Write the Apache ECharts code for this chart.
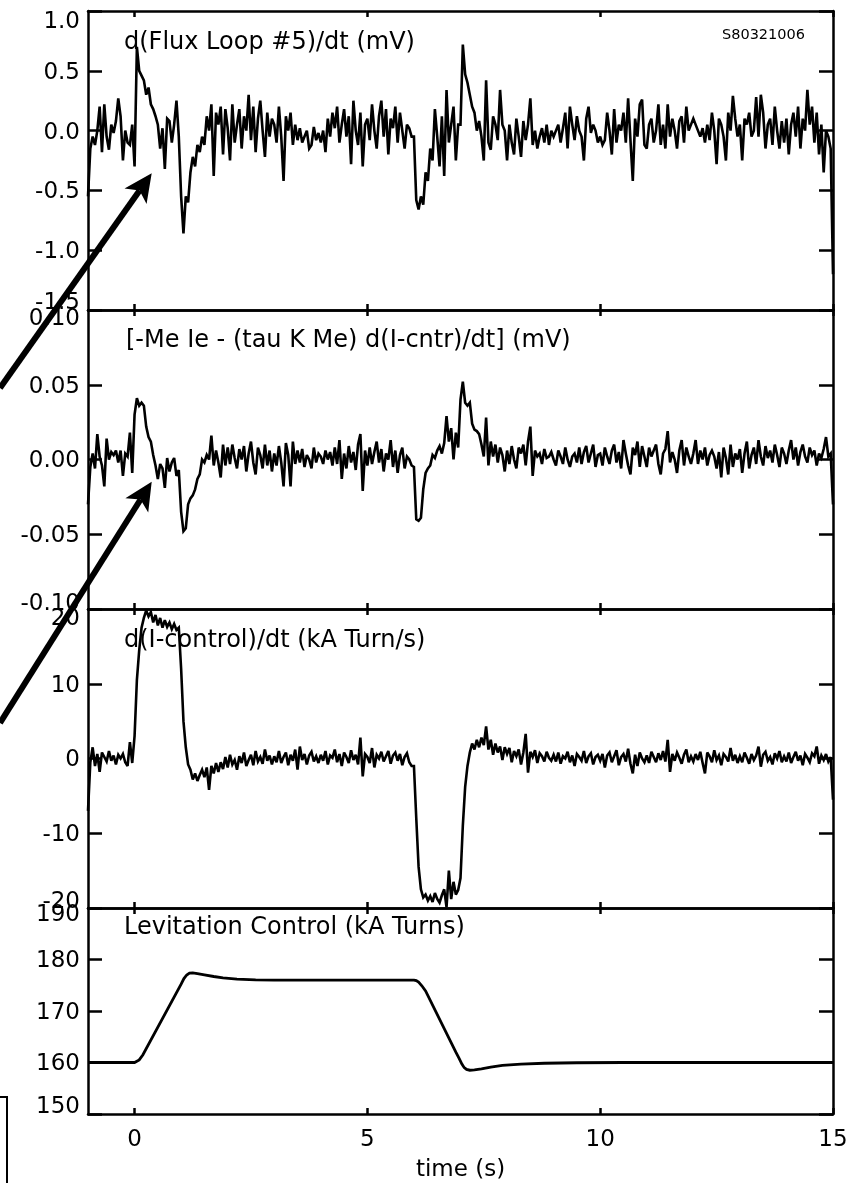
<!DOCTYPE html>
<html><head><meta charset="utf-8">
<script src="https://cdn.jsdelivr.net/npm/echarts@6/dist/echarts.min.js"></script>
<style>html,body{margin:0;padding:0;background:#fff}#c{width:861px;height:1183px}</style>
</head><body><div id="c"></div>
<script>
// sampling of the three noisy traces: t = -1 s ... 15 s every 0.05 s
const T0 = -1, DT = 0.05;

// Panel 1: d(Flux Loop #5)/dt (mV)
const fluxLoop = [
 -0.55,-0.15,-0.05,-0.12,0.0,0.2,-0.18,0.22,-0.05,-0.16,0.05,-0.02,0.08,0.27,0.12,-0.25,0.0,-0.1,-0.12,0.05,
 -0.3,0.70,0.50,0.46,0.42,0.30,0.36,0.22,0.18,0.12,0.05,-0.15,0.02,-0.32,0.10,0.08,-0.10,0.05,0.25,-0.05,
 -0.55,-0.86,-0.55,-0.60,-0.35,-0.22,-0.30,-0.12,-0.18,-0.05,-0.12,0.12,0.0,0.22,-0.38,0.15,0.05,0.2,-0.2,0.18,
 0.02,-0.25,0.22,-0.1,0.05,0.18,-0.15,0.12,0.0,0.3,-0.08,0.2,-0.18,0.1,0.25,0.0,-0.22,0.15,-0.05,0.1,
 0.05,-0.1,0.2,-0.05,-0.42,0.12,0.0,0.15,-0.12,0.05,-0.08,0.02,-0.1,-0.05,0.0,-0.15,-0.12,0.03,-0.08,-0.02,
 -0.1,0.0,-0.18,0.1,-0.05,0.15,0.02,0.2,-0.1,0.05,0.18,-0.05,0.12,-0.28,0.25,0.0,-0.12,0.15,-0.3,0.05,
 0.1,-0.08,0.22,0.0,-0.15,0.12,0.25,-0.05,0.18,-0.2,0.1,0.02,0.2,-0.1,0.15,0.0,-0.15,0.05,0.02,-0.05,
 -0.05,-0.58,-0.66,-0.55,-0.62,-0.35,-0.42,-0.15,-0.25,0.18,-0.05,-0.3,0.12,-0.38,0.34,-0.1,0.05,0.2,-0.25,0.05,
 0.05,0.72,0.47,0.40,0.30,0.20,0.15,0.0,0.08,-0.05,-0.25,0.42,-0.10,-0.16,0.12,0.05,-0.08,0.34,0.05,0.0,
 -0.25,0.05,-0.1,-0.2,0.1,-0.05,-0.22,0.08,-0.08,0.05,0.27,-0.12,0.0,-0.15,-0.05,0.02,-0.1,0.05,-0.12,0.0,
 -0.05,0.0,0.05,-0.1,0.02,0.15,-0.15,0.2,0.05,-0.08,0.12,0.0,-0.05,-0.25,0.1,0.2,-0.02,0.05,0.0,-0.1,
 -0.05,-0.12,-0.08,0.15,0.0,-0.2,0.18,-0.1,0.05,0.0,0.15,-0.1,0.27,-0.08,-0.42,0.1,-0.05,0.22,0.26,-0.12,
 -0.15,0.05,0.1,-0.1,0.0,0.22,-0.12,0.05,-0.15,0.22,-0.05,0.1,0.0,-0.15,0.08,0.12,-0.1,0.2,0.0,0.05,
 0.1,0.05,0.0,-0.05,0.02,-0.1,0.05,-0.08,0.15,0.0,-0.28,0.1,0.05,-0.05,-0.25,0.15,0.0,0.29,0.1,-0.05,
 0.05,-0.25,0.1,0.05,0.15,-0.05,0.0,0.28,-0.05,0.3,0.15,-0.15,0.05,0.1,-0.12,0.2,0.0,-0.15,0.08,-0.1,
 0.1,-0.2,0.05,0.15,-0.05,0.2,-0.15,0.1,0.0,0.34,0.05,0.2,-0.1,0.15,-0.2,0.05,-0.35,0.0,-0.05,-0.15,
 -1.2
];

// Panel 2: [-Me Ie - (tau K Me) d(I-cntr)/dt] (mV)
const meIe = [
 -0.03,-0.005,0.004,-0.006,0.017,0.002,-0.004,-0.018,0.014,0.0,0.005,0.003,0.006,-0.002,0.006,-0.011,0.004,0.002,0.018,-0.009,
 0.030,0.041,0.036,0.038,0.036,0.022,0.015,0.012,0.003,-0.004,-0.013,-0.003,-0.006,-0.019,0.001,-0.008,-0.002,0.001,-0.011,-0.007,
 -0.035,-0.048,-0.046,-0.030,-0.026,-0.024,-0.020,-0.013,-0.010,0.000,-0.002,0.003,0.000,0.016,-0.004,0.006,-0.002,-0.012,0.010,-0.004,
 0.008,-0.003,0.010,0.001,-0.006,0.007,0.0,0.009,-0.008,0.004,0.012,-0.002,-0.010,0.008,0.003,-0.006,0.010,-0.004,0.006,-0.008,
 0.004,-0.004,0.009,-0.002,-0.018,0.011,0.003,-0.018,0.012,-0.003,0.006,-0.002,0.007,-0.005,0.003,0.0,-0.006,0.008,-0.002,0.004,
 0.002,-0.003,0.006,0.0,0.005,-0.004,0.008,-0.003,0.013,-0.013,0.004,-0.006,0.009,-0.002,0.005,-0.007,0.01,0.017,-0.021,0.006,
 -0.004,0.008,-0.003,0.005,0.012,-0.002,0.007,-0.008,0.004,0.0,0.013,-0.005,0.006,-0.009,0.003,0.008,-0.006,0.002,0.0,-0.004,
 -0.005,-0.040,-0.041,-0.039,-0.020,-0.009,-0.006,-0.004,0.003,0.001,0.006,0.009,0.004,0.011,0.029,0.012,0.021,0.000,0.018,0.008,
 0.040,0.052,0.038,0.036,0.038,0.024,0.020,0.019,0.017,0.010,0.002,0.028,-0.004,0.012,0.002,0.010,-0.002,0.008,0.003,-0.008,
 0.006,-0.003,0.009,0.0,-0.006,0.008,0.004,0.010,-0.004,0.012,0.022,-0.011,0.006,0.002,0.004,-0.003,0.007,0.001,0.002,0.005,
 0.0,-0.004,0.006,0.002,-0.003,0.008,0.0,-0.005,0.002,0.004,-0.002,0.008,-0.003,0.005,0.009,-0.002,0.004,0.010,-0.005,0.003,
 0.004,-0.004,0.008,0.002,-0.003,0.006,0.010,-0.002,0.005,-0.006,0.013,0.004,-0.004,-0.010,0.008,0.003,0.012,-0.005,0.009,0.002,
 -0.005,0.008,0.002,0.006,0.010,-0.003,-0.010,0.004,0.007,0.019,-0.002,0.005,0.000,-0.009,0.006,0.013,-0.004,0.008,0.002,-0.003,
 0.004,0.013,-0.003,0.006,0.0,0.008,-0.004,0.003,0.006,0.002,-0.006,0.005,-0.012,0.008,0.001,-0.010,0.010,-0.005,0.004,0.0,
 0.007,-0.009,0.004,0.012,-0.006,0.003,0.008,-0.003,0.013,0.002,-0.004,0.009,0.001,0.006,-0.002,0.010,0.003,-0.005,0.008,0.004,
 -0.003,0.006,0.013,0.0,0.008,-0.004,0.005,0.010,0.002,-0.002,0.008,0.003,0.006,-0.004,0.004,0.001,0.007,0.015,0.002,0.004,
 -0.03
];

// Panel 3: d(I-control)/dt (kA Turn/s)
const dIcontrol = [
 -7.0,-0.5,1.5,-1.0,0.6,-1.8,0.8,0.2,-0.4,1.0,-0.3,0.4,-0.8,0.5,0.0,0.6,-0.5,-1.0,2.2,-0.6,
 3.0,10.5,14.5,17.5,18.8,19.8,19.0,19.6,18.2,19.2,17.8,18.8,17.5,18.5,17.6,18.2,17.3,18.0,17.2,17.5,
 12.0,5.0,1.5,-0.8,-1.5,-2.8,-2.0,-3.0,-2.2,-1.5,-2.5,-1.2,-4.2,-1.0,-2.0,-0.6,-1.8,-0.5,-1.4,0.2,
 -1.2,0.5,-0.8,-0.2,-1.5,0.3,-0.6,0.8,-1.0,-0.2,0.5,-0.9,1.0,-0.4,0.2,-0.7,1.2,-0.3,0.4,-0.8,
 0.3,-0.5,1.0,-0.6,0.2,0.8,-0.9,0.5,-0.3,1.2,-1.5,1.6,-0.2,0.6,-0.8,0.4,0.9,-0.4,0.3,-0.6,
 0.5,-0.3,1.0,-0.8,0.4,0.1,1.2,-0.5,0.6,-1.0,0.8,0.2,-0.6,1.1,-0.2,0.5,-0.8,2.8,-2.4,0.6,
 0.2,-0.6,1.4,-1.2,0.5,0.0,0.9,-0.4,0.3,1.0,-0.7,0.4,0.8,-0.3,0.6,-0.9,0.2,0.7,-0.5,-1.0,
 -1.0,-8.0,-14.5,-17.5,-18.6,-18.2,-19.0,-18.4,-19.2,-18.0,-18.8,-19.3,-18.3,-17.5,-19.9,-15.0,-18.8,-16.5,-18.2,-17.6,
 -16.0,-9.0,-3.8,-1.0,0.8,2.0,1.2,2.5,1.5,2.8,1.8,4.3,1.2,2.5,0.5,2.0,0.8,1.6,-0.2,1.5,
 0.6,1.4,-0.5,1.0,0.3,1.2,-0.8,0.8,3.3,-1.9,0.9,0.2,1.1,-0.6,0.7,0.3,-0.4,0.9,0.1,-0.3,
 0.5,-0.4,0.8,-0.7,0.3,0.0,0.9,-0.5,0.4,-1.0,0.6,0.2,-0.3,1.0,-0.6,0.3,0.7,-0.8,0.2,0.5,
 -0.3,0.6,-1.2,0.4,0.8,-0.5,0.3,1.1,-0.9,0.2,0.6,-0.4,1.3,-0.7,-2.0,0.5,-1.0,0.8,0.0,-0.5,
 0.4,-0.6,0.9,0.2,-0.5,0.7,-0.2,1.0,-0.4,2.5,-1.8,0.6,-0.3,0.8,0.1,-0.7,0.5,1.2,-0.5,0.3,
 -0.4,0.6,-0.2,0.9,-0.6,-2.0,0.8,0.3,-0.5,1.1,-0.2,0.4,-0.9,0.6,0.2,-0.4,1.4,-0.3,0.5,-0.6,
 0.3,-0.5,0.8,0.1,-0.7,0.6,-0.2,0.4,1.6,-1.1,0.5,0.9,-0.3,0.2,-0.8,0.7,0.0,1.0,-0.5,0.3,
 -0.4,0.8,-0.6,0.2,0.9,-0.3,0.4,-0.9,0.6,0.1,-0.5,0.7,0.3,1.6,-0.7,0.4,-0.2,0.6,-0.4,0.2,
 -5.5
];

// Panel 4: Levitation Control (kA Turns)
const levTime  = [-1, 0.0, 0.04, 0.1, 0.18, 1.0, 1.06, 1.12, 1.18, 1.25, 1.35, 1.5, 1.7, 1.9, 2.2, 2.6, 3.0, 6.0, 6.05, 6.1, 6.17, 6.25, 6.9, 6.97, 7.03, 7.08, 7.13, 7.2, 7.3, 7.45, 7.65, 7.9, 8.3, 8.8, 9.5, 10.5, 15];
const levValue = [160, 160, 160.1, 160.5, 161.5, 175.2, 176.3, 177.0, 177.35, 177.4, 177.25, 177.0, 176.7, 176.45, 176.2, 176.05, 176.0, 176.0, 175.9, 175.6, 174.9, 173.9, 162.0, 160.8, 159.7, 159.0, 158.65, 158.5, 158.55, 158.75, 159.1, 159.45, 159.7, 159.85, 159.95, 160, 160];

const xTickValues = [0, 5, 10, 15];
const panelTitles = [
  'd(Flux Loop #5)/dt (mV)',
  '[-Me Ie - (tau K Me) d(I-cntr)/dt] (mV)',
  'd(I-control)/dt (kA Turn/s)',
  'Levitation Control (kA Turns)'
];
const shotLabel = 'S80321006';
const xAxisTitle = 'time (s)';

const FONT = '"DejaVu Sans", Verdana, sans-serif';
const BLACK = '#000';
const LEFT = 88, WIDTH = 745;
const AXW = 2.5;

const panels = [
  {top: 11,  height: 299, min: -1.5, max: 1.0,  interval: 0.5,  dec: 1, shift: [9, 9],   titleX: 124, titleY: 43},
  {top: 310, height: 299, min: -0.10, max: 0.10, interval: 0.05, dec: 2, shift: [7, 6.5], titleX: 126, titleY: 341},
  {top: 609, height: 299, min: -20,  max: 20,   interval: 10,   dec: 0, shift: [8, 8],   titleX: 124, titleY: 640.5},
  {top: 908, height: 206, min: 150,  max: 190,  interval: 10,   dec: 0, shift: [5, 9],   titleX: 124, titleY: 928}
];

function pairs(vals) { return vals.map((v, i) => [+(T0 + i * DT).toFixed(2), v]); }
const seriesData = [pairs(fluxLoop), pairs(meIe), pairs(dIcontrol), levTime.map((t, i) => [t, levValue[i]])];

const axisLine = {show: true, onZero: false, lineStyle: {color: BLACK, width: AXW}};

const grid = [], xAxis = [], yAxis = [], series = [];
panels.forEach((p, k) => {
  grid.push({left: LEFT, width: WIDTH, top: p.top, height: p.height, containLabel: false});
  const last = k === panels.length - 1;
  xAxis.push({
    type: 'value', gridIndex: k, position: 'bottom', min: -1, max: 15,
    axisLine, splitLine: {show: false},
    axisTick: {show: true, inside: true, length: 6, customValues: xTickValues, lineStyle: {color: BLACK, width: AXW}},
    axisLabel: last ? {show: true, customValues: xTickValues, margin: 15, color: BLACK, fontFamily: FONT, fontSize: 23} : {show: false},
    name: last ? xAxisTitle : '', nameLocation: 'middle', nameGap: 45,
    nameTextStyle: {color: BLACK, fontFamily: FONT, fontSize: 23}
  });
  xAxis.push({
    type: 'value', gridIndex: k, position: 'top', min: -1, max: 15,
    axisLine, splitLine: {show: false},
    axisTick: {show: true, inside: true, length: 6, customValues: xTickValues, lineStyle: {color: BLACK, width: AXW}},
    axisLabel: {show: false}
  });
  const fmt = v => p.dec ? v.toFixed(p.dec) : String(Math.round(v));
  const base = 4;
  yAxis.push({
    type: 'value', gridIndex: k, position: 'left', min: p.min, max: p.max, interval: p.interval,
    axisLine, splitLine: {show: false},
    axisTick: {show: true, inside: true, length: 14, lineStyle: {color: BLACK, width: AXW}},
    axisLabel: {
      show: true, margin: 8, color: BLACK, fontFamily: FONT, fontSize: 23,
      showMinLabel: true, showMaxLabel: true,
      formatter: v => {
        const s = fmt(v);
        if (Math.abs(v - p.max) < 1e-9) return '{t|' + s + '}';
        if (Math.abs(v - p.min) < 1e-9) return '{b|' + s + '}';
        return '{n|' + s + '}';
      },
      rich: {
        n: {color: BLACK, fontFamily: FONT, fontSize: 23, padding: [base, 0, 0, 0]},
        t: {color: BLACK, fontFamily: FONT, fontSize: 23, padding: [2 * p.shift[0] + base, 0, 0, 0]},
        b: {color: BLACK, fontFamily: FONT, fontSize: 23, padding: [base, 0, 2 * p.shift[1], 0]}
      }
    }
  });
  yAxis.push({
    type: 'value', gridIndex: k, position: 'right', min: p.min, max: p.max, interval: p.interval,
    axisLine, splitLine: {show: false},
    axisTick: {show: true, inside: true, length: 14, lineStyle: {color: BLACK, width: AXW}},
    axisLabel: {show: false}
  });
  series.push({
    type: 'line', xAxisIndex: 2 * k, yAxisIndex: 2 * k, data: seriesData[k],
    showSymbol: false, symbol: 'none', smooth: false,
    lineStyle: {color: BLACK, width: last ? 2.8 : 2.6, join: 'miter', miterLimit: 3},
    animation: false, silent: true, z: 3
  });
});

function arrow(x0, y0, x1, y1) {
  const dx = x1 - x0, dy = y1 - y0, L = Math.hypot(dx, dy), ux = dx / L, uy = dy / L, px = -uy, py = ux;
  const hl = 28, hw = 13.5, notch = 21;
  const bx = x1 - ux * hl, by = y1 - uy * hl, nx = x1 - ux * notch, ny = y1 - uy * notch;
  return [
    {type: 'line', z: 100, shape: {x1: x0, y1: y0, x2: nx, y2: ny}, style: {stroke: BLACK, lineWidth: 6}},
    {type: 'polygon', z: 100, shape: {points: [[x1, y1], [bx + px * hw, by + py * hw], [nx, ny], [bx - px * hw, by - py * hw]]}, style: {fill: BLACK}}
  ];
}

const graphic = [];
panels.forEach((p, k) => {
  graphic.push({type: 'text', z: 90, style: {text: panelTitles[k], x: p.titleX, y: p.titleY, fill: BLACK,
    font: '24px ' + FONT, align: 'left', verticalAlign: 'middle', textAlign: 'left', textVerticalAlign: 'middle'}});
});
graphic.push({type: 'text', z: 90, style: {text: shotLabel, x: 805, y: 35, fill: BLACK,
  font: '14.5px ' + FONT, align: 'right', verticalAlign: 'middle', textAlign: 'right', textVerticalAlign: 'middle'}});
graphic.push(...arrow(0, 388, 151.7, 173.3));
graphic.push(...arrow(0, 723, 151.7, 481.7));
graphic.push({type: 'polyline', z: 100, shape: {points: [[0, 1097], [7, 1097], [7, 1183]]}, style: {stroke: BLACK, lineWidth: 2, fill: null}});

const chart = echarts.init(document.getElementById('c'), null, {renderer: 'canvas'});
chart.setOption({
  backgroundColor: '#fff',
  animation: false,
  grid, xAxis, yAxis, series, graphic
});
</script>
</body></html>
